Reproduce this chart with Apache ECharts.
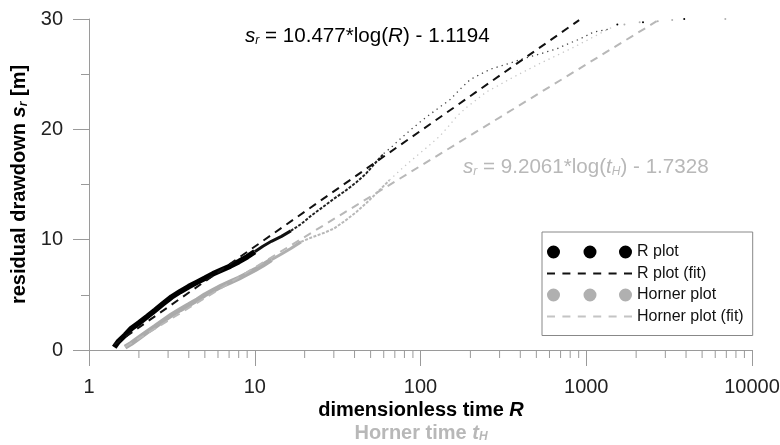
<!DOCTYPE html>
<html>
<head>
<meta charset="utf-8">
<script src="https://cdn.jsdelivr.net/npm/echarts@6/dist/echarts.min.js"></script>
<style>
  html, body { margin: 0; padding: 0; background: #fff; }
  #main { width: 780px; height: 445px; }
</style>
</head>
<body>
<div id="main"></div>
<script>
// R plot (dimensionless time R vs residual drawdown)
const rDense = [[1.42, 0.25], [1.5, 0.75], [1.65, 1.35], [1.8, 1.95], [2.0, 2.45], [2.25, 3.05], [2.5, 3.6],
  [2.8, 4.2], [3.15, 4.8], [3.55, 5.3], [4.0, 5.75], [4.5, 6.15], [5.0, 6.5], [5.6, 6.9], [6.3, 7.25],
  [7.1, 7.6], [8.0, 8.0], [9.0, 8.45], [10, 8.9]];
const rThin = [[10, 8.9], [11.2, 9.4], [12.6, 9.85], [14.5, 10.3], [16.5, 10.8]];
const rMid = [[16.5, 10.8], [19, 11.4], [22, 12.2], [26, 13.0], [30, 13.7],
  [35, 14.4], [41, 15.2], [47, 16.0], [53, 16.9], [60, 17.8]];
const rTail = [[60, 17.8], [68, 18.5], [75, 19.1], [88, 20.0], [104, 20.9], [125, 21.8], [151, 22.7],
  [175, 23.7], [199, 24.5], [230, 25.0], [264, 25.45], [330, 25.9], [417, 26.4], [530, 26.85],
  [664, 27.3], [790, 27.8], [919, 28.2], [1100, 28.8], [1380, 29.1]];
const rSparse = [[1540, 29.5], [2200, 29.7], [3900, 30.0]];

// Horner plot (Horner time tH vs residual drawdown)
const hDense = [[1.65, 0.25], [1.8, 0.6], [2.0, 1.1], [2.25, 1.65], [2.5, 2.12], [2.8, 2.65], [3.15, 3.18],
  [3.55, 3.65], [4.0, 4.1], [4.5, 4.55], [5.0, 5.0], [5.6, 5.4], [6.3, 5.8], [7.1, 6.15], [8.0, 6.5],
  [9.0, 6.9], [10, 7.27], [11.2, 7.7], [12.6, 8.18]];
const hThin = [[12.6, 8.18], [14.5, 8.7], [16.5, 9.2], [19, 9.8]];
const hMid = [[19, 9.8], [22, 10.2], [26, 10.6], [30, 11.0], [35, 11.7], [41, 12.5],
  [47, 13.3], [55, 14.3], [65, 15.4]];
const hTail = [[65, 15.4], [78, 16.5], [95, 17.6], [112, 18.5], [131, 19.4], [148, 20.3], [166, 21.2],
  [190, 22.0], [218, 22.7], [250, 23.4], [289, 23.9], [350, 24.6], [417, 25.2], [530, 26.0],
  [664, 26.7], [830, 27.4], [1050, 28.2], [1250, 28.8], [1450, 29.3]];
const hSparse = [[1700, 29.5], [2100, 29.7], [2700, 29.8], [3300, 29.9], [6900, 30.0]];

// fitted lines (end points)
const rFit = [[1.42, 0.48], [906, 29.9]];
const hFit = [[1.65, 0.27], [2660, 29.8]];

// x axis minor tick positions
const xMinorTicks = [2, 3, 4, 5, 6, 7, 8, 9, 20, 30, 40, 50, 60, 70, 80, 90,
  200, 300, 400, 500, 600, 700, 800, 900, 2000, 3000, 4000, 5000, 6000, 7000, 8000, 9000];

const FONT = 'Liberation Sans, Arial, Helvetica, sans-serif';
const BLACK = '#000';
const GRAY = '#ababab';
const LIGHT = '#b8b8b8';
const AXIS = '#9a9a9a';

const dotsIcon = 'path://M0,6.5A6.5,6.5,0,1,1,13,6.5A6.5,6.5,0,1,1,0,6.5Z' +
  'M36.5,6.5A6.5,6.5,0,1,1,49.5,6.5A6.5,6.5,0,1,1,36.5,6.5Z' +
  'M72,6.5A6.5,6.5,0,1,1,85,6.5A6.5,6.5,0,1,1,72,6.5Z';
const dashIcon = 'path://M0,0h8v2h-8zM15.4,0h8v2h-8zM30.8,0h8v2h-8zM46.2,0h8v2h-8zM61.6,0h8v2h-8zM77,0h8v2h-8z';

const chart = echarts.init(document.getElementById('main'));

function lineSeries(name, data, color, width, type) {
  return {
    name: name, type: 'line', data: data, showSymbol: false, symbol: 'none',
    lineStyle: { color: color, width: width, type: type || 'solid' },
    itemStyle: { color: color }, silent: true
  };
}
function dotSeries(name, data, color, size) {
  return {
    name: name, type: 'scatter', data: data, symbolSize: size, clip: false,
    itemStyle: { color: color, opacity: 1 }, silent: true
  };
}

const option = {
  animation: false,
  textStyle: { fontFamily: FONT },
  grid: { left: 89, right: 28, top: 19, bottom: 95, containLabel: false, outerBoundsMode: 'none' },
  legend: {
    orient: 'vertical', left: 542, top: 232,
    padding: [12, 9, 11, 5],
    itemWidth: 85, itemHeight: 14, itemGap: 5.5,
    symbolKeepAspect: true,
    borderColor: '#888', borderWidth: 1, borderRadius: 0, backgroundColor: '#fff',
    selectedMode: false,
    textStyle: { fontSize: 16, color: '#111', fontFamily: FONT },
    data: [
      { name: 'R plot', icon: dotsIcon, itemStyle: { color: BLACK, borderWidth: 0, opacity: 1 } },
      { name: 'R plot (fit)', icon: dashIcon, itemStyle: { color: '#111', borderWidth: 0, opacity: 1 } },
      { name: 'Horner plot', icon: dotsIcon, itemStyle: { color: '#b0b0b0', borderWidth: 0, opacity: 1 } },
      { name: 'Horner plot (fit)', icon: dashIcon, itemStyle: { color: '#c4c4c4', borderWidth: 0, opacity: 1 } }
    ]
  },
  xAxis: {
    type: 'log', logBase: 10, min: 1, max: 10000,
    splitLine: { show: false },
    axisLine: { show: true, lineStyle: { color: AXIS, width: 1 } },
    axisTick: { show: true, length: 16, lineStyle: { color: AXIS } },
    axisLabel: {
      fontSize: 20, color: '#222', margin: 27, fontFamily: FONT,
      formatter: function (v) { return String(Math.round(v)); }
    }
  },
  yAxis: {
    type: 'value', min: 0, max: 30, interval: 10,
    name: '{b|residual drawdown }{bi|s}{bs|r}{b| [m]}',
    nameLocation: 'middle', nameGap: 53,
    nameTextStyle: {
      rich: {
        b: { fontSize: 20, fontWeight: 'bold', color: '#000', fontFamily: FONT },
        bi: { fontSize: 20, fontWeight: 'bold', fontStyle: 'italic', color: '#000', fontFamily: FONT },
        bs: { fontSize: 12, fontWeight: 'bold', fontStyle: 'italic', color: '#000', fontFamily: FONT, verticalAlign: 'bottom' }
      }
    },
    splitLine: { show: false },
    axisLine: { show: true, lineStyle: { color: AXIS, width: 1 } },
    axisTick: { show: true, length: 16, lineStyle: { color: AXIS } },
    minorTick: { show: true, splitNumber: 2, length: 8, lineStyle: { color: AXIS } },
    minorSplitLine: { show: false },
    axisLabel: { fontSize: 20, color: '#222', margin: 26, fontFamily: FONT }
  },
  series: [
    // minor ticks on the log axis
    {
      type: 'scatter', data: xMinorTicks.map(function (v) { return [v, 0]; }),
      symbol: 'rect', symbolSize: [1, 8], symbolOffset: [0, 4], clip: false, silent: true,
      itemStyle: { color: AXIS, opacity: 1 }
    },
    dotSeries('Horner plot', hSparse, '#b0b0b0', 2),
    lineSeries('Horner plot', hDense, GRAY, 5),
    lineSeries('Horner plot', hThin, '#b0b0b0', 3),
    lineSeries('Horner plot', hMid, '#b8b8b8', 2, [3, 1.5]),
    lineSeries('Horner plot', hTail, '#c6c6c6', 1.3, [1.3, 4]),
    dotSeries('R plot', rSparse, BLACK, 2),
    lineSeries('R plot', rDense, BLACK, 5.5),
    lineSeries('R plot', rThin, '#111', 3),
    lineSeries('R plot', rMid, '#222', 2, [3, 1.5]),
    lineSeries('R plot', rTail, '#444', 1.3, [1.3, 4]),
    lineSeries('Horner plot (fit)', hFit, LIGHT, 2, [8, 6]),
    lineSeries('R plot (fit)', rFit, '#111', 2, [8, 6])
  ],
  graphic: [
    {
      type: 'text', x: 245, y: 36, silent: true,
      style: {
        text: '{i|s}{sub|r}{n| = 10.477*log(}{i|R}{n|) - 1.1194}',
        verticalAlign: 'middle',
        rich: {
          n: { fontSize: 20.6, fontFamily: FONT, fill: '#000' },
          i: { fontSize: 20.6, fontFamily: FONT, fontStyle: 'italic', fill: '#000' },
          sub: { fontSize: 12, fontFamily: FONT, fontStyle: 'italic', fill: '#000', verticalAlign: 'bottom' }
        }
      }
    },
    {
      type: 'text', x: 463, y: 167, silent: true,
      style: {
        text: '{i|s}{sub|r}{n| = 9.2061*log(}{i|t}{sub|H}{n|) - 1.7328}',
        verticalAlign: 'middle',
        rich: {
          n: { fontSize: 20.6, fontFamily: FONT, fill: LIGHT },
          i: { fontSize: 20.6, fontFamily: FONT, fontStyle: 'italic', fill: LIGHT },
          sub: { fontSize: 12, fontFamily: FONT, fontStyle: 'italic', fill: LIGHT, verticalAlign: 'bottom' }
        }
      }
    },
    {
      type: 'text', x: 421, y: 410, silent: true,
      style: {
        text: '{b|dimensionless time }{bi|R}',
        align: 'center', verticalAlign: 'middle',
        rich: {
          b: { fontSize: 20, fontWeight: 'bold', fontFamily: FONT, fill: '#000' },
          bi: { fontSize: 20, fontWeight: 'bold', fontStyle: 'italic', fontFamily: FONT, fill: '#000' }
        }
      }
    },
    {
      type: 'text', x: 421, y: 433, silent: true,
      style: {
        text: '{b|Horner time }{bi|t}{bs|H}',
        align: 'center', verticalAlign: 'middle',
        rich: {
          b: { fontSize: 20, fontWeight: 'bold', fontFamily: FONT, fill: LIGHT },
          bi: { fontSize: 20, fontWeight: 'bold', fontStyle: 'italic', fontFamily: FONT, fill: LIGHT },
          bs: { fontSize: 12, fontWeight: 'bold', fontStyle: 'italic', fontFamily: FONT, fill: LIGHT, verticalAlign: 'bottom' }
        }
      }
    }
  ]
};

chart.setOption(option);
</script>
</body>
</html>
